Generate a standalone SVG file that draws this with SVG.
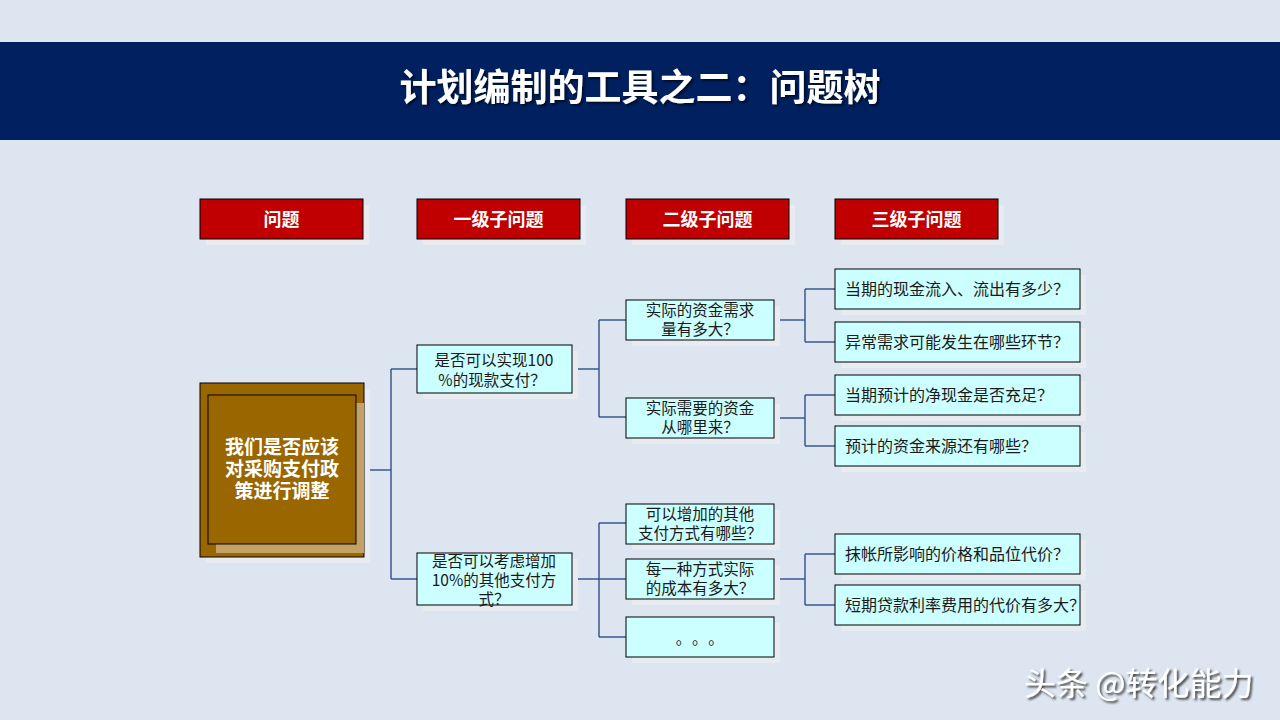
<svg xmlns="http://www.w3.org/2000/svg" width="1280" height="720" viewBox="0 0 1280 720">
<defs>
<filter id="tshadow" x="-10%" y="-30%" width="120%" height="160%">
<feDropShadow dx="2" dy="2" stdDeviation="1" flood-color="#000000" flood-opacity="0.6"/>
</filter>
<filter id="wshadow" x="-10%" y="-30%" width="120%" height="160%">
<feDropShadow dx="2" dy="2" stdDeviation="0.8" flood-color="#333333" flood-opacity="0.9"/>
</filter>
</defs>
<style>
.bg{fill:#dce5f0}
.band{fill:#002060}
.title{font-family:"Noto Sans CJK SC","Noto Sans",sans-serif;font-weight:bold;font-size:37px;fill:#ffffff;text-anchor:middle}
.hdr{fill:#c00000;stroke:#000000;stroke-width:1}
.hdrt{font-family:"Noto Sans CJK SC","Noto Sans",sans-serif;font-weight:bold;font-size:18px;fill:#ffffff;text-anchor:middle}
.shd{fill:#e8ebf0}
.box{fill:#ccffff;stroke:#000000;stroke-width:1}
.t{font-family:"Noto Sans CJK SC","Noto Sans",sans-serif;font-size:15.5px;fill:#1a1a1a;text-anchor:middle}
.dots{letter-spacing:8.5px}
.tl{font-family:"Noto Sans CJK SC","Noto Sans",sans-serif;font-size:16px;fill:#1a1a1a}
.root{fill:#996600;stroke:#000000;stroke-width:1}
.roott{font-family:"Noto Sans CJK SC","Noto Sans",sans-serif;font-weight:bold;font-size:19px;fill:#ffffff;text-anchor:middle}
.conn{fill:none;stroke:#3a5a8c;stroke-width:1.5}
.wm{font-family:"Noto Sans CJK SC","Noto Sans",sans-serif;font-size:32px;fill:#ffffff}
</style>
<rect class="bg" x="0" y="0" width="1280" height="720"/>
<g id="title">
<rect class="band" x="0" y="42" width="1280" height="98"/>
<text class="title" x="640" y="101" filter="url(#tshadow)">计划编制的工具之二：问题树</text>
</g>
<g id="headers">
<rect class="shd" x="206" y="205" width="163" height="40"/>
<rect class="hdr" x="200" y="199" width="163" height="40"/>
<text class="hdrt" x="281.5" y="226">问题</text>
<rect class="shd" x="423" y="205" width="163" height="40"/>
<rect class="hdr" x="417" y="199" width="163" height="40"/>
<text class="hdrt" x="498.5" y="226">一级子问题</text>
<rect class="shd" x="632" y="205" width="163" height="40"/>
<rect class="hdr" x="626" y="199" width="163" height="40"/>
<text class="hdrt" x="707.5" y="226">二级子问题</text>
<rect class="shd" x="841" y="205" width="163" height="40"/>
<rect class="hdr" x="835" y="199" width="163" height="40"/>
<text class="hdrt" x="916.5" y="226">三级子问题</text>
</g>
<g id="connectors">
<path class="conn" d="M364 470 H391 M391 369 V579 M391 369 H417 M391 579 H417"/>
<path class="conn" d="M572 369 H599 M599 320 V417 M599 320 H626 M599 417 H626"/>
<path class="conn" d="M774 320 H805 M805 289 V342 M805 289 H835 M805 342 H835"/>
<path class="conn" d="M774 418 H805 M805 395 V446 M805 395 H835 M805 446 H835"/>
<path class="conn" d="M572 579 H599 M599 523 V637 M599 523 H626 M599 579 H626 M599 637 H626"/>
<path class="conn" d="M774 579 H805 M805 554 V605 M805 554 H835 M805 605 H835"/>
</g>
<g id="root">
<rect class="shd" x="206" y="389" width="164" height="174"/>
<rect class="root" x="200" y="383" width="164" height="174"/>
<rect x="216" y="403" width="148" height="150" fill="#c4a265"/>
<rect class="root" x="208" y="395" width="148" height="149"/>
<text class="roott"><tspan x="282" y="454">我们是否应该</tspan><tspan x="282" y="476">对采购支付政</tspan><tspan x="282" y="498">策进行调整</tspan></text>
</g>
<g id="l1a">
<rect class="shd" x="423" y="351" width="155" height="48"/>
<rect class="box" x="417" y="345" width="155" height="48"/>
<text class="t"><tspan x="494" y="366">是否可以实现100</tspan><tspan x="492" y="386">%的现款支付？</tspan></text>
</g>
<g id="l1b">
<rect class="shd" x="423" y="559" width="155" height="52"/>
<rect class="box" x="417" y="553" width="155" height="52"/>
<text class="t"><tspan x="494" y="567">是否可以考虑增加</tspan><tspan x="494" y="586">10%的其他支付方</tspan><tspan x="494" y="605">式？</tspan></text>
</g>
<g id="l2a">
<rect class="shd" x="632" y="306" width="148" height="40"/>
<rect class="box" x="626" y="300" width="148" height="40"/>
<text class="t"><tspan x="700" y="316">实际的资金需求</tspan><tspan x="700" y="335">量有多大？</tspan></text>
</g>
<g id="l2b">
<rect class="shd" x="632" y="404" width="148" height="40"/>
<rect class="box" x="626" y="398" width="148" height="40"/>
<text class="t"><tspan x="700" y="414">实际需要的资金</tspan><tspan x="700" y="433">从哪里来？</tspan></text>
</g>
<g id="l2c">
<rect class="shd" x="632" y="510" width="148" height="40"/>
<rect class="box" x="626" y="504" width="148" height="40"/>
<text class="t"><tspan x="700" y="520">可以增加的其他</tspan><tspan x="700" y="539">支付方式有哪些？</tspan></text>
</g>
<g id="l2d">
<rect class="shd" x="632" y="565" width="148" height="40"/>
<rect class="box" x="626" y="559" width="148" height="40"/>
<text class="t"><tspan x="700" y="575">每一种方式实际</tspan><tspan x="700" y="594">的成本有多大？</tspan></text>
</g>
<g id="l2e">
<rect class="shd" x="632" y="623" width="148" height="40"/>
<rect class="box" x="626" y="617" width="148" height="40"/>
<text class="t dots" x="704" y="644">。。。</text>
</g>
<g id="l3a">
<rect class="shd" x="841" y="275" width="245" height="40"/>
<rect class="box" x="835" y="269" width="245" height="40"/>
<text class="tl" x="845" y="295">当期的现金流入、流出有多少？</text>
</g>
<g id="l3b">
<rect class="shd" x="841" y="328" width="245" height="40"/>
<rect class="box" x="835" y="322" width="245" height="40"/>
<text class="tl" x="845" y="348">异常需求可能发生在哪些环节？</text>
</g>
<g id="l3c">
<rect class="shd" x="841" y="381" width="245" height="40"/>
<rect class="box" x="835" y="375" width="245" height="40"/>
<text class="tl" x="845" y="401">当期预计的净现金是否充足？</text>
</g>
<g id="l3d">
<rect class="shd" x="841" y="432" width="245" height="40"/>
<rect class="box" x="835" y="426" width="245" height="40"/>
<text class="tl" x="845" y="452">预计的资金来源还有哪些？</text>
</g>
<g id="l3e">
<rect class="shd" x="841" y="540" width="245" height="40"/>
<rect class="box" x="835" y="534" width="245" height="40"/>
<text class="tl" x="845" y="560">抹帐所影响的价格和品位代价？</text>
</g>
<g id="l3f">
<rect class="shd" x="841" y="591" width="245" height="40"/>
<rect class="box" x="835" y="585" width="245" height="40"/>
<text class="tl" x="845" y="611">短期贷款利率费用的代价有多大？</text>
</g>
<g id="watermark">
<text class="wm" x="1024" y="695" filter="url(#wshadow)">头条 @转化能力</text>
</g>
</svg>
